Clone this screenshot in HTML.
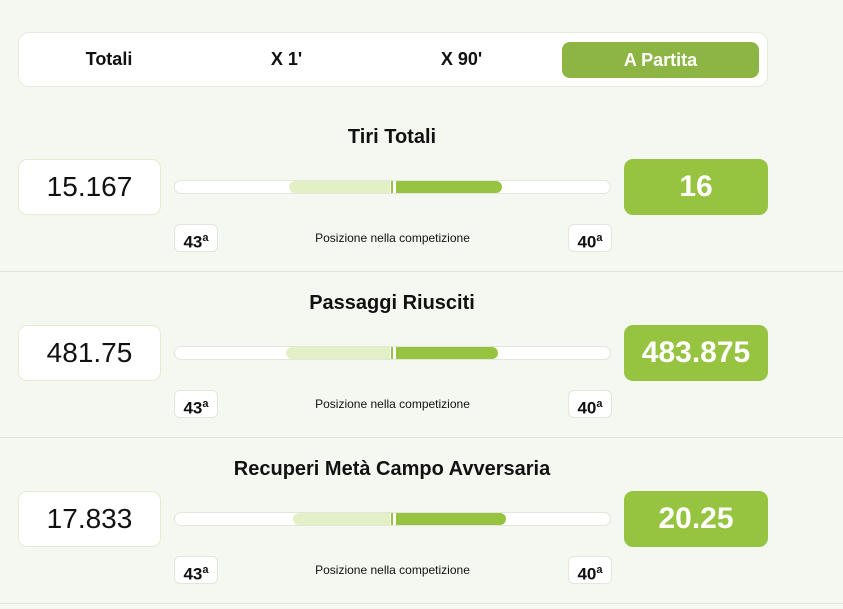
<!DOCTYPE html>
<html><head><style>
*{margin:0;padding:0;box-sizing:border-box}
body{width:843px;height:609px;background:#f5f8f0;font-family:"Liberation Sans",sans-serif;position:relative;overflow:hidden;color:#111}
.a{position:absolute}
.tabs{left:18px;top:32px;width:750px;height:55px;background:#fff;border:1px solid #e6ebdd;border-radius:11px}
.tab{position:absolute;top:0;height:53px;line-height:53px;font-weight:bold;font-size:18px;text-align:center}
.act{left:543px;top:9px;width:197px;height:36px;line-height:36px;background:#8db543;color:#fff;border-radius:8px}
.title{left:0;width:784px;text-align:center;font-size:20px;font-weight:bold}
.lb{left:18px;width:143px;height:56px;background:#fff;border:1px solid #e6ebcf;border-radius:9px;text-align:center;line-height:54px;font-size:28px}
.rb{left:624px;width:144px;height:56px;background:#96c440;border-radius:9px;text-align:center;line-height:56px;font-size:30px;font-weight:bold;color:#fff}
.bar{left:174px;width:437px;height:14px;background:#fff;border:1px solid #e3e6dd;border-radius:7px}
.lf{height:12px;background:#e3efc4;border-radius:6px 0 0 6px}
.df{height:12px;background:#96c440;border-radius:0 6px 6px 0}
.mk{width:2px;height:12px;background:#96c440}
.rk{width:44px;height:28px;background:#fff;border:1px solid #e3e6dd;border-radius:6px;text-align:center;line-height:27px;font-weight:bold;font-size:17px}
.rk sup{font-size:11px}
.pos{left:174px;width:437px;text-align:center;font-size:12px}
.hr{left:0;width:843px;height:1px;background:#e1e4dc}
</style></head><body>
<div class="a tabs">
<div class="tab" style="left:0;width:180px">Totali</div>
<div class="tab" style="left:180px;width:175px">X 1'</div>
<div class="tab" style="left:355px;width:175px">X 90'</div>
<div class="tab act">A Partita</div>
</div>

<div class="a title" style="top:126px">Tiri Totali</div>
<div class="a lb" style="top:159px">15.167</div>
<div class="a bar" style="top:180px"></div>
<div class="a lf" style="top:181px;left:289px;width:101px"></div>
<div class="a mk" style="top:181px;left:391px"></div>
<div class="a df" style="top:181px;left:396px;width:106px"></div>
<div class="a rb" style="top:159px">16</div>
<div class="a rk" style="left:174px;top:224px">43<sup>a</sup></div>
<div class="a pos" style="top:231px">Posizione nella competizione</div>
<div class="a rk" style="left:568px;top:224px">40<sup>a</sup></div>
<div class="a hr" style="top:271px"></div>

<div class="a title" style="top:292px">Passaggi Riusciti</div>
<div class="a lb" style="top:325px">481.75</div>
<div class="a bar" style="top:346px"></div>
<div class="a lf" style="top:347px;left:286px;width:104px"></div>
<div class="a mk" style="top:347px;left:391px"></div>
<div class="a df" style="top:347px;left:396px;width:102px"></div>
<div class="a rb" style="top:325px">483.875</div>
<div class="a rk" style="left:174px;top:390px">43<sup>a</sup></div>
<div class="a pos" style="top:397px">Posizione nella competizione</div>
<div class="a rk" style="left:568px;top:390px">40<sup>a</sup></div>
<div class="a hr" style="top:437px"></div>

<div class="a title" style="top:458px">Recuperi Metà Campo Avversaria</div>
<div class="a lb" style="top:491px">17.833</div>
<div class="a bar" style="top:512px"></div>
<div class="a lf" style="top:513px;left:293px;width:97px"></div>
<div class="a mk" style="top:513px;left:391px"></div>
<div class="a df" style="top:513px;left:396px;width:110px"></div>
<div class="a rb" style="top:491px">20.25</div>
<div class="a rk" style="left:174px;top:556px">43<sup>a</sup></div>
<div class="a pos" style="top:563px">Posizione nella competizione</div>
<div class="a rk" style="left:568px;top:556px">40<sup>a</sup></div>
<div class="a hr" style="top:603px"></div>
</body></html>
